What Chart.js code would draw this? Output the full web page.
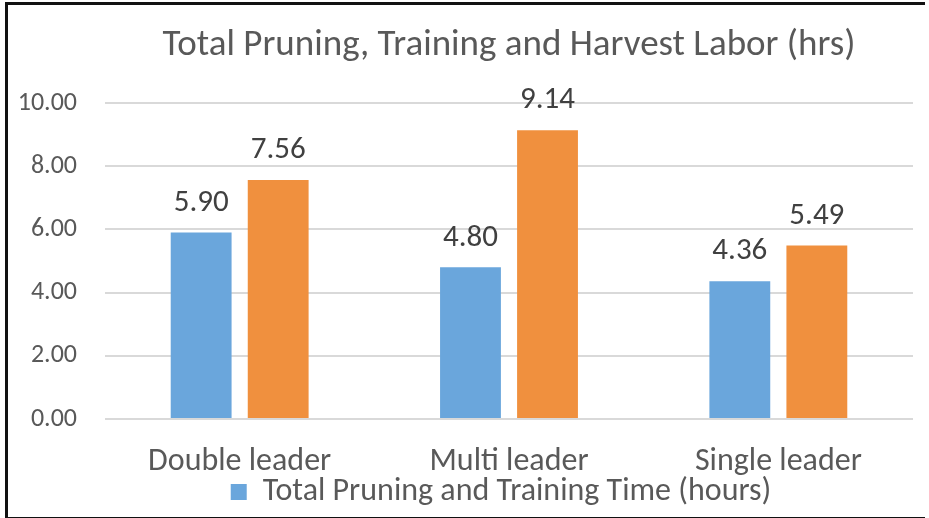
<!DOCTYPE html>
<html>
<head>
<meta charset="utf-8">
<script src="https://cdn.jsdelivr.net/npm/chart.js@4.4.1/dist/chart.umd.min.js"></script>
<style>
  html, body { margin: 0; padding: 0; background: #fff; }
  #wrap { position: relative; width: 929px; height: 518px; }
  #frame {
    position: absolute; left: 5px; top: 2px; width: 917px; height: 512px;
    border-left: 3px solid #111; border-top: 3px solid #111; border-bottom: 3px solid #111;
    pointer-events: none;
  }
</style>
</head>
<body>
<div id="wrap">
  <canvas id="laborChart" width="929" height="518"></canvas>
  <div id="frame"></div>
</div>
<script>
// Chart data
const categories = ['Double leader', 'Multi leader', 'Single leader'];
const pruningTraining = [5.90, 4.80, 4.36];
const harvestLabor = [7.56, 9.14, 5.49];
const yTicks = [0, 2, 4, 6, 8, 10];

const FONT = "Carlito, Lato, 'Liberation Sans', sans-serif";

// Draw value labels above each bar
const valueLabels = {
    id: 'valueLabels',
    afterDatasetsDraw(chart) {
        const ctx = chart.ctx;
        ctx.save();
        ctx.font = '31px ' + FONT;
        ctx.fillStyle = '#404040';
        ctx.textAlign = 'center';
        ctx.textBaseline = 'bottom';
        chart.data.datasets.forEach((ds, i) => {
            chart.getDatasetMeta(i).data.forEach((bar, j) => {
                ctx.fillText(ds.data[j].toFixed(2), bar.x, bar.y - 14);
            });
        });
        ctx.restore();
    }
};

// Nudge the legend a little to the left, like the original
const legendShift = {
    id: 'legendShift',
    afterLayout(chart) {
        if (chart.legend) {
            chart.legend.left -= 8;
            chart.legend.right -= 8;
        }
    }
};

const ctx = document.getElementById('laborChart').getContext('2d');
const laborChart = new Chart(ctx, {
    type: 'bar',
    data: {
        labels: categories,
        datasets: [{
            label: 'Total Pruning and Training Time (hours)',
            data: pruningTraining,
            backgroundColor: '#6aa6dc',
            categoryPercentage: 0.572,
            barPercentage: 0.79
        }, {
            label: 'Total Harvest Labor (hours)',
            data: harvestLabor,
            backgroundColor: '#f0903e',
            categoryPercentage: 0.572,
            barPercentage: 0.79
        }]
    },
    options: {
        responsive: false,
        animation: false,
        layout: {
            padding: { left: 12, right: 16, top: 0, bottom: 0 }
        },
        scales: {
            x: {
                grid: { display: false, tickLength: 29 },
                border: { display: false },
                ticks: { color: '#595959', font: { family: FONT, size: 32, lineHeight: 0.875 }, padding: 0 }
            },
            y: {
                min: yTicks[0],
                max: yTicks[yTicks.length - 1],
                afterFit(scale) { scale.width = 93; },
                grid: { color: '#d9d9d9', lineWidth: 2, drawTicks: false },
                border: { display: false },
                ticks: {
                    stepSize: yTicks[1] - yTicks[0],
                    color: '#595959',
                    padding: 28,
                    font: { family: FONT, size: 26 },
                    callback: v => Number(v).toFixed(2)
                }
            }
        },
        plugins: {
            title: {
                display: true,
                fullSize: false,
                text: 'Total Pruning, Training and Harvest Labor (hrs)',
                color: '#595959',
                font: { family: FONT, size: 37, weight: 'normal', lineHeight: 1 },
                padding: { top: 27, bottom: 39 }
            },
            legend: {
                position: 'bottom',
                fullSize: false,
                labels: {
                    color: '#595959',
                    font: { family: FONT, size: 32 },
                    boxWidth: 16,
                    boxHeight: 16,
                    padding: 0,
                    filter: item => item.datasetIndex === 0
                }
            },
            tooltip: { enabled: false }
        }
    },
    plugins: [valueLabels, legendShift]
});
</script>
</body>
</html>
